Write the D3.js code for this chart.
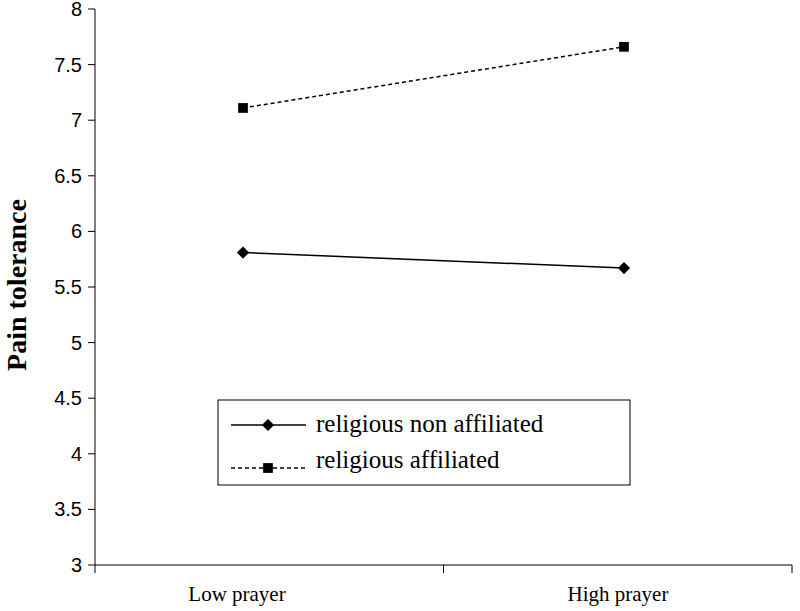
<!DOCTYPE html>
<html><head><meta charset="utf-8">
<script src="https://cdn.jsdelivr.net/npm/d3@7"></script>
<style>body{margin:0;background:#fff}text{font-family:"Liberation Serif","Times New Roman",serif}</style>
</head><body><div id="grafico"></div>
<script>
const categories = ['Low prayer', 'High prayer']
const nonAffiliated = [5.81, 5.67]
const affiliated = [7.11, 7.66]
const yTicks = [3, 3.5, 4, 4.5, 5, 5.5, 6, 6.5, 7, 7.5, 8]

var ancho = 800, alto = 611
var svg = d3.select('#grafico').append('svg').attr('width', ancho).attr('height', alto)

var y = d3.scaleLinear().domain([3, 8]).range([565, 9])
// band edges for axis ticks, point positions for the data
var xb = d3.scaleBand().domain(categories).range([95, 792])
var x = d3.scalePoint().domain(categories).range([243, 624])

// y axis
svg.append('line').attr('x1', 95).attr('x2', 95).attr('y1', y(8)).attr('y2', y(3)).attr('stroke', '#000')
yTicks.forEach(t => {
  svg.append('line').attr('x1', 88).attr('x2', 95).attr('y1', y(t)).attr('y2', y(t)).attr('stroke', '#000')
  svg.append('text').attr('x', 82).attr('y', y(t)).attr('dy', '0.35em').attr('text-anchor', 'end')
    .style('font-family', '"Liberation Sans", Arial, sans-serif').style('font-size', '20px').text(t)
})
// x axis
svg.append('line').attr('x1', 95).attr('x2', 792).attr('y1', y(3)).attr('y2', y(3)).attr('stroke', '#000')
;[95, xb('High prayer'), 792].forEach(px => {
  svg.append('line').attr('x1', px).attr('x2', px).attr('y1', y(3)).attr('y2', y(3) + 8).attr('stroke', '#000')
})
categories.forEach(c => {
  svg.append('text').attr('x', x(c) - 6).attr('y', 601).attr('text-anchor', 'middle')
    .style('font-size', '21px').text(c)
})
svg.append('text').attr('transform', 'translate(26,285) rotate(-90)').attr('text-anchor', 'middle')
  .style('font-size', '28px').style('font-weight', 'bold').text('Pain tolerance')

var linea = d3.line().x((d, i) => x(categories[i])).y(d => y(d))
svg.append('path').attr('d', linea(nonAffiliated)).attr('fill', 'none').attr('stroke', '#000').attr('stroke-width', 1.5)
svg.append('path').attr('d', linea(affiliated)).attr('fill', 'none').attr('stroke', '#000').attr('stroke-width', 1.5).attr('stroke-dasharray', '4,3')

var diamond = d3.symbol().type(d3.symbolSquare).size(75)
var square = d3.symbol().type(d3.symbolSquare).size(95)
nonAffiliated.forEach((v, i) => svg.append('path').attr('d', diamond()).attr('transform', `translate(${x(categories[i])},${y(v)}) rotate(45)`))
affiliated.forEach((v, i) => svg.append('path').attr('d', square()).attr('transform', `translate(${x(categories[i])},${y(v)})`))

// legend
var lg = svg.append('g')
lg.append('rect').attr('x', 218).attr('y', 400).attr('width', 412).attr('height', 85).attr('fill', '#fff').attr('stroke', '#000')
lg.append('line').attr('x1', 231).attr('x2', 306).attr('y1', 425).attr('y2', 425).attr('stroke', '#000').attr('stroke-width', 1.5)
lg.append('path').attr('d', diamond()).attr('transform', 'translate(268,425) rotate(45)')
lg.append('text').attr('x', 316).attr('y', 423).attr('dy', '0.35em').style('font-size', '25px').text('religious non affiliated')
lg.append('line').attr('x1', 231).attr('x2', 306).attr('y1', 468).attr('y2', 468).attr('stroke', '#000').attr('stroke-width', 1.5).attr('stroke-dasharray', '4,3')
lg.append('path').attr('d', square()).attr('transform', 'translate(268,468)')
lg.append('text').attr('x', 316).attr('y', 459).attr('dy', '0.35em').style('font-size', '25px').text('religious affiliated')
</script></body></html>
